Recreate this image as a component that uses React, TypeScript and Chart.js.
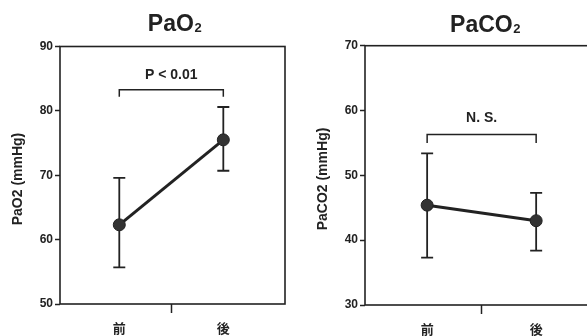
import React, { useEffect, useRef } from 'react';
import { Chart, registerables } from 'chart.js';

Chart.register(...registerables);

// ---- data ----
const categories = ['前', '後'];

const pao2Mean = [62.3, 75.5];
const pao2Upper = [69.6, 80.6];
const pao2Lower = [55.7, 70.7];
const pao2Ticks = [50, 60, 70, 80, 90];
const pao2SigLabel = 'P < 0.01';
const pao2Bracket = [83.3, 82.2]; // top, ends
const pao2SigY = 85.5;

const paco2Mean = [45.4, 43.0];
const paco2Upper = [53.4, 47.3];
const paco2Lower = [37.3, 38.4];
const paco2Ticks = [30, 40, 50, 60, 70];
const paco2SigLabel = 'N. S.';
const paco2Bracket = [56.3, 55.0];
const paco2SigY = 58.8;

const INK = '#222222';
const SANS = '"Liberation Sans", Arial, Helvetica, sans-serif';
const CJK = '"Noto Sans CJK JP", sans-serif';

type Panel = {
  title: string;
  sub: string;
  axisTitle: string;
  mean: number[];
  upper: number[];
  lower: number[];
  ticks: number[];
  sig: string;
  bracket: number[];
  sigY: number;
  titleX: number;
  titleBase: number;
  axisX: number;
  axisY: number;
  yWidth: number;
  xHeight: number;
  padTop: number;
  padRight: number;
};

function makePlugin(p: Panel) {
  return {
    id: 'panelDecor',
    beforeDatasetsDraw(chart: any) {
      const { ctx, chartArea: a, scales } = chart;
      const x = scales.x;
      const y = scales.y;
      ctx.save();
      // frame
      ctx.strokeStyle = INK;
      ctx.lineWidth = 1.6;
      ctx.strokeRect(a.left, a.top, a.right - a.left, a.bottom - a.top);
      // error bars
      ctx.lineWidth = 1.8;
      p.mean.forEach((_m, i) => {
        const px = x.getPixelForValue(i);
        const yt = y.getPixelForValue(p.upper[i]);
        const yb = y.getPixelForValue(p.lower[i]);
        ctx.beginPath();
        ctx.moveTo(px, yt);
        ctx.lineTo(px, yb);
        ctx.moveTo(px - 6, yt);
        ctx.lineTo(px + 6, yt);
        ctx.moveTo(px - 6, yb);
        ctx.lineTo(px + 6, yb);
        ctx.stroke();
      });
      // bracket
      const x0 = x.getPixelForValue(0);
      const x1 = x.getPixelForValue(1);
      const bt = y.getPixelForValue(p.bracket[0]);
      const be = y.getPixelForValue(p.bracket[1]);
      ctx.lineWidth = 1.5;
      ctx.beginPath();
      ctx.moveTo(x0, be);
      ctx.lineTo(x0, bt);
      ctx.lineTo(x1, bt);
      ctx.lineTo(x1, be);
      ctx.stroke();
      // significance label
      ctx.fillStyle = INK;
      ctx.font = `bold 14px ${SANS}`;
      ctx.textAlign = 'center';
      ctx.textBaseline = 'middle';
      ctx.fillText(p.sig, x.getPixelForValue(0.5), y.getPixelForValue(p.sigY));
      // title with subscript
      ctx.textAlign = 'left';
      ctx.textBaseline = 'alphabetic';
      ctx.font = `bold 23px ${SANS}`;
      const w1 = ctx.measureText(p.title).width;
      ctx.font = `bold 13px ${SANS}`;
      const w2 = ctx.measureText(p.sub).width;
      const sx = p.titleX - (w1 + w2) / 2;
      ctx.font = `bold 23px ${SANS}`;
      ctx.fillText(p.title, sx, p.titleBase);
      ctx.font = `bold 13px ${SANS}`;
      ctx.fillText(p.sub, sx + w1 + 0.5, p.titleBase + 1);
      // axis title
      ctx.translate(p.axisX, p.axisY);
      ctx.rotate(-Math.PI / 2);
      ctx.font = `bold 14px ${SANS}`;
      ctx.textAlign = 'center';
      ctx.textBaseline = 'middle';
      ctx.fillText(p.axisTitle, 0, 0);
      ctx.restore();
    },
  };
}

function makeConfig(p: Panel): any {
  return {
    type: 'line',
    data: {
      datasets: [
        {
          data: categories.map((_c, i) => ({ x: i, y: p.mean[i] })),
          borderColor: INK,
          borderWidth: 3,
          pointRadius: 6,
          pointBackgroundColor: '#333333',
          pointBorderColor: INK,
          pointBorderWidth: 1,
          tension: 0,
        },
      ],
    },
    options: {
      animation: false,
      responsive: false,
      events: [],
      layout: { padding: { top: p.padTop, right: p.padRight, left: 0, bottom: 0 } },
      plugins: { legend: { display: false }, tooltip: { enabled: false }, title: { display: false } },
      scales: {
        x: {
          type: 'linear',
          min: -0.57,
          max: 1.593,
          afterBuildTicks: (s: any) => {
            s.ticks = [0, 0.5, 1].map((v) => ({ value: v }));
          },
          afterFit: (s: any) => {
            s.height = p.xHeight;
          },
          ticks: {
            autoSkip: false,
            maxRotation: 0,
            padding: 7,
            color: INK,
            font: { family: CJK, size: 13, weight: 'bold' },
            callback: (v: number) => (Number.isInteger(v) ? categories[v] : ''),
          },
          grid: {
            drawOnChartArea: false,
            drawTicks: true,
            tickLength: 9,
            tickWidth: 1.5,
            tickColor: (c: any) => (c.tick && c.tick.value === 0.5 ? INK : 'rgba(0,0,0,0)'),
          },
          border: { display: false },
        },
        y: {
          min: p.ticks[0],
          max: p.ticks[p.ticks.length - 1],
          afterBuildTicks: (s: any) => {
            s.ticks = p.ticks.map((v) => ({ value: v }));
          },
          afterFit: (s: any) => {
            s.width = p.yWidth;
          },
          ticks: {
            padding: 2,
            color: INK,
            font: { family: SANS, size: 12, weight: 'bold' },
          },
          grid: {
            drawOnChartArea: false,
            drawTicks: true,
            tickLength: 5,
            tickWidth: 1.5,
            tickColor: INK,
          },
          border: { display: false },
        },
      },
    },
    plugins: [makePlugin(p)],
  };
}

const leftPanel: Panel = {
  title: 'PaO',
  sub: '2',
  axisTitle: 'PaO2 (mmHg)',
  mean: pao2Mean,
  upper: pao2Upper,
  lower: pao2Lower,
  ticks: pao2Ticks,
  sig: pao2SigLabel,
  bracket: pao2Bracket,
  sigY: pao2SigY,
  titleX: 174.5,
  titleBase: 30.5,
  axisX: 18,
  axisY: 179,
  yWidth: 60,
  xHeight: 32,
  padTop: 46.5,
  padRight: 15,
};

const rightPanel: Panel = {
  title: 'PaCO',
  sub: '2',
  axisTitle: 'PaCO2 (mmHg)',
  mean: paco2Mean,
  upper: paco2Upper,
  lower: paco2Lower,
  ticks: paco2Ticks,
  sig: paco2SigLabel,
  bracket: paco2Bracket,
  sigY: paco2SigY,
  titleX: 195,
  titleBase: 32,
  axisX: 33.3,
  axisY: 179,
  yWidth: 75,
  xHeight: 31,
  padTop: 45.7,
  padRight: 14.2,
};

function PanelChart({ panel, width, left }: { panel: Panel; width: number; left: number }) {
  const ref = useRef<HTMLCanvasElement | null>(null);
  useEffect(() => {
    if (!ref.current) return;
    const chart = new Chart(ref.current, makeConfig(panel));
    return () => chart.destroy();
  }, [panel]);
  return (
    <canvas
      ref={ref}
      width={width}
      height={336}
      style={{ position: 'absolute', left, top: 0, width, height: 336, display: 'block' }}
    />
  );
}

export default function App() {
  return (
    <div
      style={{
        position: 'fixed',
        left: 0,
        top: 0,
        width: 587,
        height: 336,
        overflow: 'hidden',
        background: '#ffffff',
      }}
    >
      <PanelChart panel={leftPanel} width={300} left={0} />
      <PanelChart panel={rightPanel} width={325} left={290} />
    </div>
  );
}
